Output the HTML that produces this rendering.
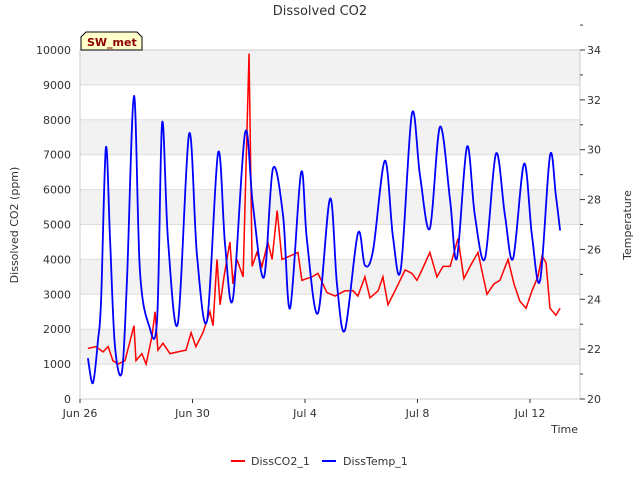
<!DOCTYPE html>
<html><head><meta charset="utf-8"><style>
body{margin:0;background:#fff;font-family:"Liberation Sans","DejaVu Sans",sans-serif}
text{font-family:"DejaVu Sans","Liberation Sans",sans-serif}
</style></head><body>
<svg id="c" width="640" height="480" xmlns="http://www.w3.org/2000/svg"></svg>
<script>
const xTickLabels=["Jun 26","Jun 30","Jul 4","Jul 8","Jul 12"];
const xTickDays=[0,4,8,12,16];
const yLeftTicks=[0,1000,2000,3000,4000,5000,6000,7000,8000,9000,10000];
const yRightTicks=[20,22,24,26,28,30,32,34];
const co2Days=[0.28,0.57,0.82,1.00,1.17,1.35,1.60,1.92,1.99,2.20,2.35,2.56,2.67,2.77,2.95,3.20,3.48,3.77,3.95,4.12,4.37,4.62,4.73,4.87,4.98,5.12,5.33,5.44,5.58,5.80,6.01,6.12,6.29,6.47,6.68,6.83,7.01,7.18,7.47,7.75,7.89,8.25,8.46,8.78,9.07,9.42,9.71,9.88,10.13,10.31,10.60,10.77,10.95,11.20,11.56,11.80,11.98,12.16,12.44,12.69,12.91,13.16,13.44,13.65,13.87,14.15,14.47,14.72,14.93,15.22,15.43,15.64,15.86,16.07,16.28,16.43,16.57,16.71,16.92,17.07];
const co2Values=[1450,1500,1350,1500,1100,1000,1100,2100,1100,1300,1000,1800,2500,1400,1600,1300,1350,1400,1900,1500,1900,2500,2100,4000,2700,3500,4500,3300,4000,3500,9900,3800,4200,3800,4500,4000,5400,4000,4100,4200,3400,3500,3600,3050,2950,3100,3100,2950,3500,2900,3100,3500,2700,3100,3700,3600,3400,3700,4200,3500,3800,3800,4600,3450,3800,4200,3000,3300,3400,4000,3300,2800,2600,3100,3500,4100,3900,2600,2400,2600];
const tempDays=[0.28,0.46,0.64,0.75,0.92,1.07,1.24,1.49,1.67,1.92,2.13,2.45,2.74,2.92,3.13,3.48,3.88,4.16,4.52,4.91,5.16,5.44,5.87,6.15,6.54,6.86,7.22,7.47,7.86,8.07,8.46,8.89,9.14,9.42,9.88,10.13,10.42,10.84,11.13,11.41,11.80,12.09,12.44,12.80,13.16,13.40,13.76,14.04,14.40,14.79,15.11,15.40,15.79,16.07,16.36,16.71,16.92,17.07];
const tempValues=[21.64,20.64,22.36,23.96,30.08,26.36,22.16,21.08,24.76,32.16,25.16,22.96,23.16,31.08,26.36,23.04,30.64,25.76,23.16,29.88,26.16,24.04,30.68,27.76,24.88,29.24,27.36,23.64,29.08,26.36,23.44,28.04,24.56,22.76,26.64,25.36,25.96,29.56,26.48,25.24,31.44,28.96,26.84,30.92,27.96,25.64,30.12,27.36,25.64,29.84,27.36,25.64,29.44,26.56,24.76,29.76,28.16,26.76];

const svg=document.getElementById('c');const NS='http://www.w3.org/2000/svg';
const L=80,R=580,T=50,B=399;
const xs=d=>L+d*28.125, yl=v=>B-(v/10000)*(B-T), yr=v=>B-((v-20)/14)*(B-T);
function el(t,a,p){const e=document.createElementNS(NS,t);for(const k in a)e.setAttribute(k,a[k]);(p||svg).appendChild(e);return e;}
function smooth(pts){let d='M'+pts[0][0]+','+pts[0][1];for(let i=0;i<pts.length-1;i++){const p0=pts[Math.max(0,i-1)],p1=pts[i],p2=pts[i+1],p3=pts[Math.min(pts.length-1,i+2)];const k=1/6;
d+=' C'+(p1[0]+(p2[0]-p0[0])*k)+','+(p1[1]+(p2[1]-p0[1])*k)+' '+(p2[0]-(p3[0]-p1[0])*k)+','+(p2[1]-(p3[1]-p1[1])*k)+' '+p2[0]+','+p2[1];}return d;}
for(let i=1;i<10;i+=2){const r=el('rect',{x:L,y:yl(i*1000+1000),width:R-L,height:yl(i*1000)-yl(i*1000+1000),fill:'#f2f2f2'});

}
yLeftTicks.forEach(v=>{const g=el('line',{x1:L,x2:R,y1:yl(v),y2:yl(v),stroke:'#ddd'});


const t=el('text',{x:71,y:yl(v)+4,'text-anchor':'end','font-size':11,fill:'#333'});t.textContent=v;

});
el('rect',{x:L,y:T,width:R-L,height:B-T,fill:'none',stroke:'#ccc'});
yRightTicks.forEach(v=>{el('line',{x1:R,x2:R+5,y1:yr(v),y2:yr(v),stroke:'#333'});
el('line',{x1:R,x2:R+3,y1:yr(v+1),y2:yr(v+1),stroke:'#333'});
const t=el('text',{x:587,y:yr(v)+4,'font-size':11,fill:'#333'});t.textContent=v;

});
xTickDays.forEach((d,i)=>{el('line',{x1:xs(d),x2:xs(d),y1:B,y2:B+4,stroke:'#333'});
const t=el('text',{x:xs(d),y:417,'text-anchor':'middle','font-size':11,fill:'#333'});t.textContent=xTickLabels[i];

});
const co2=el('polyline',{points:co2Days.map((d,i)=>xs(d)+','+yl(co2Values[i])).join(' '),fill:'none',stroke:'#f00','stroke-width':1.5});


const tl=el('path',{d:smooth(tempDays.map((d,i)=>[xs(d),yr(tempValues[i])])),fill:'none',stroke:'#00f','stroke-width':1.8});


function txt(s,a,n){const t=el('text',a);t.textContent=s;return t;}
txt('Dissolved CO2',{x:320,y:15,'text-anchor':'middle','font-size':13,fill:'#333'},'chart-title');
txt('Dissolved CO2 (ppm)',{x:18,y:225,'text-anchor':'middle','font-size':11,fill:'#333',transform:'rotate(-90 18 225)'},'y-left-title');
txt('Temperature',{x:631,y:225,'text-anchor':'middle','font-size':11,fill:'#333',transform:'rotate(-90 631 225)'},'y-right-title');
txt('Time',{x:578,y:433,'text-anchor':'end','font-size':11,fill:'#333'},'x-axis-title');
const b=el('path',{d:'M81,50 L81,37 L86,32 L137,32 L142,37 L142,50 Z',fill:'#ffffcc',stroke:'#000'});


txt('SW_met',{x:87,y:46,'font-size':11,'font-weight':'bold',fill:'#8b0000'},'site-badge-label');
el('line',{x1:231,x2:245,y1:461,y2:461,stroke:'#f00','stroke-width':2});
txt('DissCO2_1',{x:251,y:465,'font-size':11,fill:'#333'},'legend-co2');
el('line',{x1:322,x2:336,y1:461,y2:461,stroke:'#00f','stroke-width':2});
txt('DissTemp_1',{x:343,y:465,'font-size':11,fill:'#333'},'legend-temp');
</script>
</body></html>
